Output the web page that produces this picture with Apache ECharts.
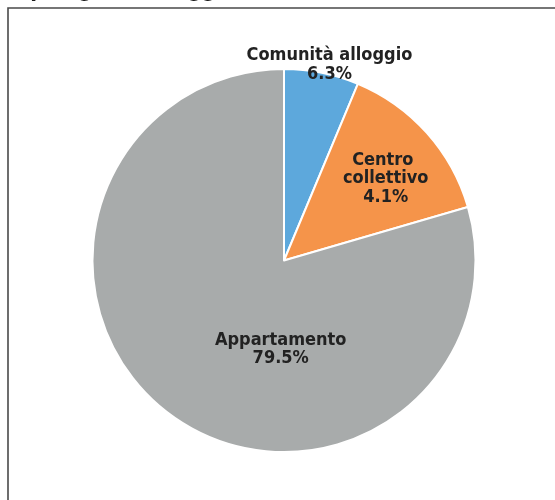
<!DOCTYPE html>
<html>
<head>
<meta charset="utf-8">
<script src="https://cdn.jsdelivr.net/npm/echarts@6/dist/echarts.min.js"></script>
<style>
html,body{margin:0;padding:0;background:#fff;}
#c{width:555px;height:500px;}
</style>
</head>
<body>
<div id="c"></div>
<script>
const titleText = 'Tipologia di alloggio';
const categories = ['Comunità alloggio', 'Centro collettivo', 'Appartamento'];
const values = [6.3, 14.2, 79.5];
const labelTexts = ['6.3%', '4.1%', '79.5%'];
const colors = ['#5da8dc', '#f5944a', '#a8abab'];

const labelOffsets = [[26, -99], [28, -16], [56, 10]];
const labelWidths = [220, 100, 220];

const chart = echarts.init(document.getElementById('c'), null, {renderer: 'canvas'});
const FONT = '"DejaVu Sans Condensed", "DejaVu Sans", sans-serif';

chart.setOption({
  animation: false,
  backgroundColor: '#ffffff',
  graphic: [
    {
      type: 'rect',
      shape: {x: 8, y: 8, width: 700, height: 700},
      style: {fill: 'none', stroke: '#4a4a4a', lineWidth: 1.6},
      silent: true
    },
    {
      type: 'text',
      x: 10,
      y: 2.5,
      style: {
        text: titleText,
        font: 'bold 22px ' + FONT,
        fill: '#1a1a1a',
        verticalAlign: 'bottom',
        lineHeight: 22
      },
      silent: true
    }
  ],
  series: [{
    type: 'pie',
    center: [284, 260.5],
    radius: [0, 191.5],
    startAngle: 90,
    clockwise: true,
    avoidLabelOverlap: false,
    itemStyle: {borderColor: '#ffffff', borderWidth: 2},
    emphasis: {disabled: true},
    labelLine: {show: false},
    data: categories.map((name, i) => ({
      name: name,
      value: values[i],
      itemStyle: {color: colors[i]},
      label: {
        show: true,
        position: 'inside',
        offset: labelOffsets[i],
        width: labelWidths[i],
        overflow: 'break',
        formatter: () => name + '\n' + labelTexts[i],
        color: '#222222',
        fontFamily: FONT,
        fontWeight: 'bold',
        fontSize: 18,
        lineHeight: 18.5,
        align: 'center',
        textBorderWidth: 0
      }
    }))
  }]
});
</script>
</body>
</html>
